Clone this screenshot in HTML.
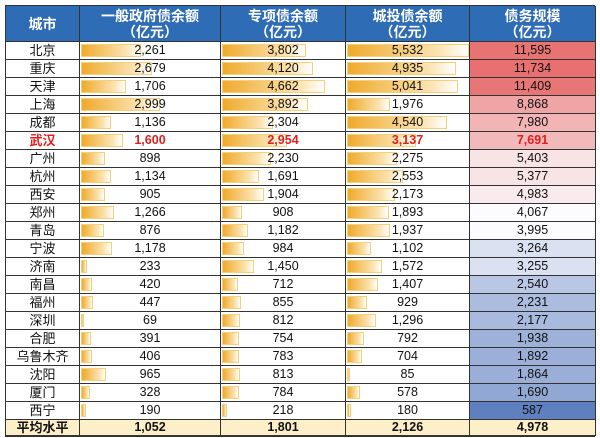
<!DOCTYPE html>
<html><head><meta charset="utf-8">
<style>
body{margin:0;width:600px;height:438px;background:#fff;overflow:hidden;font-family:"Liberation Sans","Noto Sans CJK SC",sans-serif;}
#tbl{position:absolute;left:5px;top:5px;width:590px;height:432px;border:1px solid #333;box-sizing:border-box;}
.c{position:absolute;box-sizing:border-box;border-right:1px solid #333;border-bottom:1px solid #333;text-align:center;font-size:12.5px;color:#111;overflow:hidden;}
.h{background:#2f6cb6;color:#fff;font-weight:bold;font-size:14px;line-height:16px;display:flex;align-items:center;justify-content:center;}
.bar{position:absolute;left:1px;top:2px;bottom:2px;background:linear-gradient(to right,#f0aa2c,#fbe3b0 75%,#fff);border:1px solid #f6cf7a;box-sizing:border-box;}
.t{position:relative;}
</style></head><body>
<div id="tbl"></div>
<script>
const cities=["北京","重庆","天津","上海","成都","武汉","广州","杭州","西安","郑州","青岛","宁波","济南","南昌","福州","深圳","合肥","乌鲁木齐","沈阳","厦门","西宁"];
const generalDebt=[2261,2679,1706,2999,1136,1600,898,1134,905,1266,876,1178,233,420,447,69,391,406,965,328,190];
const specialDebt=[3802,4120,4662,3892,2304,2954,2230,1691,1904,908,1182,984,1450,712,855,812,754,783,813,784,218];
const chengtouDebt=[5532,4935,5041,1976,4540,3137,2275,2553,2173,1893,1937,1102,1572,1407,929,1296,792,704,85,578,180];
const totalDebt=[11595,11734,11409,8868,7980,7691,5403,5377,4983,4067,3995,3264,3255,2540,2231,2177,1938,1892,1864,1690,587];
const averages=[1052,1801,2126,4978];
const headers=["城市","一般政府债余额<br>（亿元）","专项债余额<br>（亿元）","城投债余额<br>（亿元）","债务规模<br>（亿元）"];
const colX=[0,74,215,340,464,590];
const scale=[0.0264,0.0221,0.022];
const T=document.getElementById('tbl');
const fmt=v=>v.toLocaleString('en-US');
function cell(x,y,w,h,cls){const d=document.createElement('div');d.className='c '+cls;d.style.left=x+'px';d.style.top=y+'px';d.style.width=w+'px';d.style.height=h+'px';d.style.lineHeight=(h-1)+'px';T.appendChild(d);return d;}
const names=["city-header","general-debt-header","special-debt-header","chengtou-debt-header","total-debt-header"];
const headH=36;
for(let i=0;i<5;i++){const d=cell(colX[i],0,colX[i+1]-colX[i],headH,'h');d.innerHTML=headers[i];d.style.lineHeight='16px';

}
const sorted=[...totalDebt].sort((a,b)=>a-b);
const tmin=sorted[0],tmax=sorted[sorted.length-1],tmid=sorted[Math.floor(sorted.length/2)];
function mix(a,b,t){return a.map((v,i)=>Math.round(v+(b[i]-v)*t));}
function heat(v){const blue=[95,128,192],white=[252,252,255],red=[232,112,112];
let c=v<tmid?mix(blue,white,(v-tmin)/(tmid-tmin)):mix(white,red,(v-tmid)/(tmax-tmid));return `rgb(${c})`;}
const series=[generalDebt,specialDebt,chengtouDebt];
const rowH=18;
cities.forEach((c,r)=>{const y=headH+r*rowH;const red=c==="武汉";
const d=cell(colX[0],y,colX[1]-colX[0],rowH,'');d.textContent=c;d.style.fontSize='13px';if(red){d.style.color='#e02020';d.style.fontWeight='bold';}


for(let k=0;k<3;k++){const v=series[k][r];const e=cell(colX[k+1],y,colX[k+2]-colX[k+1],rowH,'');
const b=document.createElement('div');b.className='bar';b.style.width=Math.max(3,v*scale[k])+'px';e.appendChild(b);


const t=document.createElement('span');t.className='t';t.textContent=fmt(v);if(red){t.style.color='#e02020';t.style.fontWeight='bold';}e.appendChild(t);

}
const h=cell(colX[4],y,colX[5]-colX[4],rowH,'');h.style.background=heat(totalDebt[r]);h.textContent=fmt(totalDebt[r]);if(red){h.style.color='#e02020';h.style.fontWeight='bold';}


});
const ay=headH+cities.length*rowH;
const ah=432-2-ay;
const a0=cell(colX[0],ay,colX[1]-colX[0],ah,'');a0.textContent='平均水平';a0.style.background='#fdf0c8';a0.style.fontWeight='bold';a0.style.fontSize='13px';


averages.forEach((v,i)=>{const d=cell(colX[i+1],ay,colX[i+2]-colX[i+1],ah,'');d.textContent=fmt(v);d.style.background='#fdf0c8';d.style.fontWeight='bold';

});
</script>
</body></html>
